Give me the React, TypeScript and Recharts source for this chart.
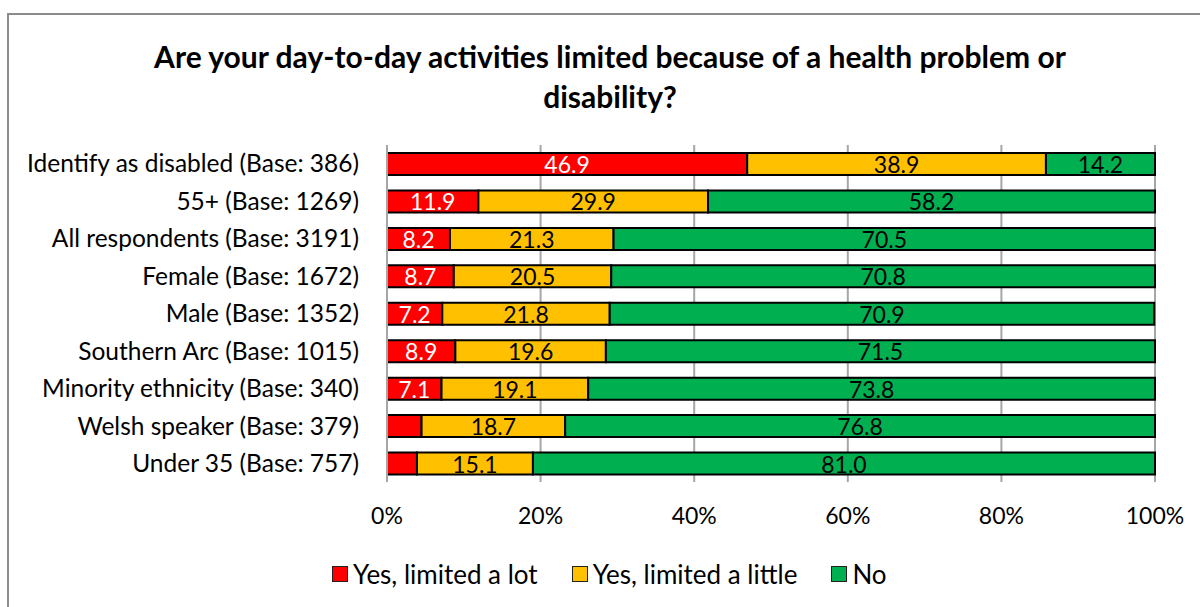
import * as React from 'react';
import {
  BarChart,
  Bar,
  XAxis,
  YAxis,
  CartesianGrid,
  Legend,
  LabelList,
} from 'recharts';

const categories = [
  'Identify as disabled (Base: 386)',
  '55+ (Base: 1269)',
  'All respondents (Base: 3191)',
  'Female (Base: 1672)',
  'Male (Base: 1352)',
  'Southern Arc (Base: 1015)',
  'Minority ethnicity (Base: 340)',
  'Welsh speaker (Base: 379)',
  'Under 35 (Base: 757)',
];
const limitedLot = [46.9, 11.9, 8.2, 8.7, 7.2, 8.9, 7.1, 4.5, 3.9];
const limitedLittle = [38.9, 29.9, 21.3, 20.5, 21.8, 19.6, 19.1, 18.7, 15.1];
const notLimited = [14.2, 58.2, 70.5, 70.8, 70.9, 71.5, 73.8, 76.8, 81.0];
const xTicks = [0, 20, 40, 60, 80, 100];

const FONT = 'Lato, sans-serif';

const series = [
  { key: 'lot', name: 'Yes, limited a lot', color: '#FF0000', text: '#ffffff' },
  { key: 'little', name: 'Yes, limited a little', color: '#FFC000', text: '#000000' },
  { key: 'no', name: 'No', color: '#00B050', text: '#000000' },
];

const data = categories.map((name, i) => ({
  name,
  lot: limitedLot[i],
  little: limitedLittle[i],
  no: notLimited[i],
}));

// centred value inside the segment, hidden where the segment is too narrow
function makeLabel(fill: string) {
  return (props: any) => {
    const { x, y, width, height, value } = props;
    if (value == null || value < 5) return null;
    return (
      <text
        x={x + width / 2}
        y={y + height / 2 + 9}
        textAnchor="middle"
        fill={fill}
        fontSize={23}
        fontFamily={FONT}
      >
        {Number(value).toFixed(1)}
      </text>
    );
  };
}

function LegendContent() {
  return (
    <div style={{ display: 'flex', alignItems: 'center', fontFamily: FONT, fontSize: 26, height: 40 }}>
      {series.map((s) => (
        <div key={s.key} style={{ display: 'flex', alignItems: 'center', marginRight: 34 }}>
          <span
            style={{
              display: 'inline-block',
              width: 14,
              height: 14,
              background: s.color,
              border: '1.5px solid #222',
              marginRight: 5,
            }}
          />
          <span>{s.name}</span>
        </div>
      ))}
    </div>
  );
}

export default function App() {
  return (
    <div
      style={{
        position: 'fixed',
        left: 0,
        top: 0,
        width: 1200,
        height: 607,
        overflow: 'hidden',
        background: '#fff',
      }}
    >
      <div
        style={{
          position: 'absolute',
          left: 7,
          top: 13,
          width: 1220,
          height: 620,
          border: '2px solid #8c8c8c',
        }}
      />
      <div
        style={{
          position: 'absolute',
          left: 0,
          top: 36,
          width: 1220,
          textAlign: 'center',
          fontFamily: FONT,
          fontWeight: 'bold',
          fontSize: 30,
          lineHeight: '40px',
          color: '#000',
        }}
      >
        Are your day-to-day activities limited because of a health problem or
        <br />
        disability?
      </div>
      <div style={{ position: 'absolute', left: 0, top: 0 }}>
        <BarChart
          width={1200}
          height={607}
          data={data}
          layout="vertical"
          margin={{ top: 145, right: 45, left: 12, bottom: 13 }}
          barSize={22}
        >
          <CartesianGrid horizontal={false} stroke="#a6a6a6" strokeWidth={2} />
          <XAxis
            type="number"
            domain={[0, 100]}
            ticks={xTicks}
            tickFormatter={(v) => `${v}%`}
            axisLine={false}
            tickLine={false}
            tickSize={0}
            tickMargin={26}
            height={72}
            tick={{ fill: '#000', fontSize: 23, fontFamily: FONT }}
          />
          <YAxis
            type="category"
            dataKey="name"
            width={375}
            axisLine={{ stroke: '#a6a6a6', strokeWidth: 2 }}
            tickLine={false}
            tickSize={0}
            tickMargin={28}
            interval={0}
            tick={{ fill: '#000', fontSize: 24.5, fontFamily: FONT }}
          />
          <Legend
            verticalAlign="bottom"
            content={<LegendContent />}
            wrapperStyle={{ left: 332, width: 'auto', height: 40 }}
          />
          {series.map((s) => (
            <Bar
              key={s.key}
              dataKey={s.key}
              name={s.name}
              stackId="a"
              fill={s.color}
              stroke="#000"
              strokeWidth={2}
              isAnimationActive={false}
            >
              <LabelList dataKey={s.key} content={makeLabel(s.text)} />
            </Bar>
          ))}
        </BarChart>
      </div>
    </div>
  );
}
